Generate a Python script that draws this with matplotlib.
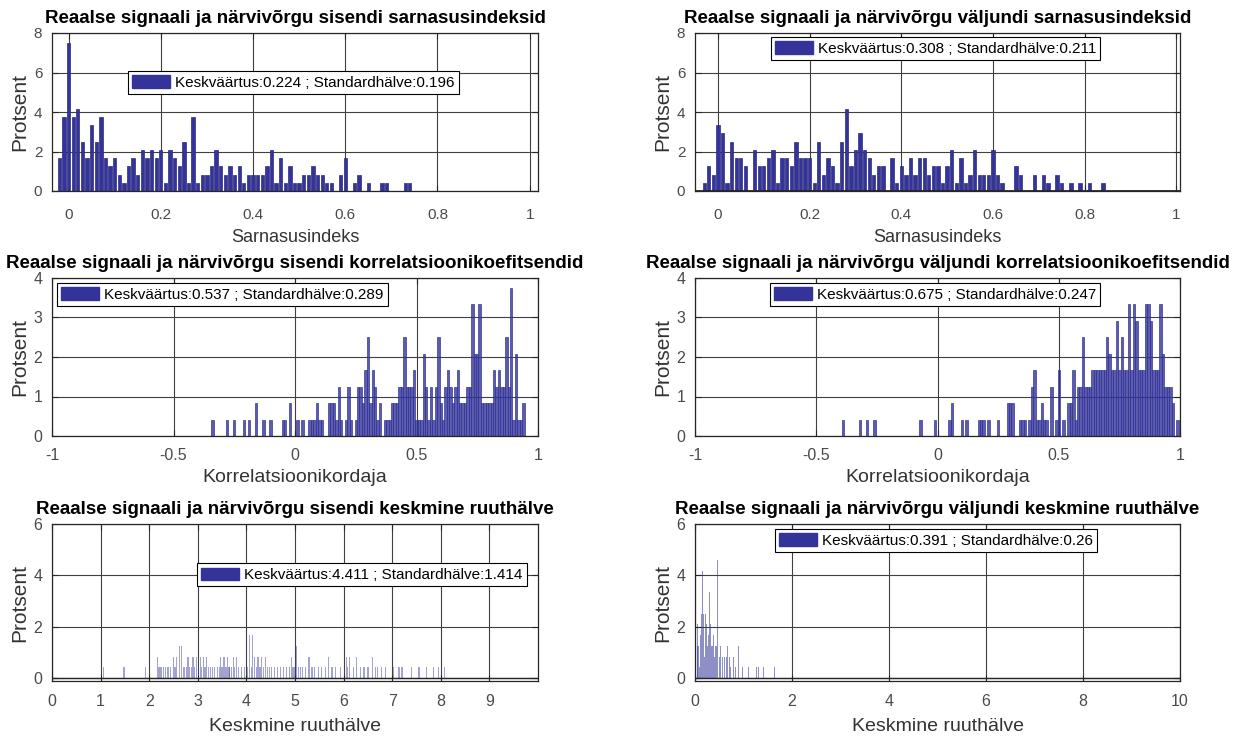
import numpy as np
import matplotlib.pyplot as plt
from matplotlib.patches import Patch
from matplotlib.ticker import FormatStrFormatter

plt.rcParams['font.family'] = ['Liberation Sans', 'DejaVu Sans']

N_SAMPLES = 240          # protsendi arvutamiseks
BAR_COLOR = "#333399"

# sarnasusindeksid, vahemiku laius 0.01, esimese vahemiku keskpunkt antud
sim_in_start = -0.02
sim_in_counts = [4, 9, 18, 9, 10, 6, 4, 8, 6, 9,
                 4, 3, 4, 2, 1, 3, 4, 2, 5, 4,
                 5, 4, 5, 1, 5, 4, 3, 6, 1, 9,
                 1, 2, 2, 3, 5, 3, 2, 3, 2, 3,
                 1, 2, 2, 2, 2, 3, 5, 1, 4, 1,
                 3, 1, 1, 2, 2, 3, 2, 2, 1, 1,
                 0, 2, 4, 0, 1, 2, 0, 1, 0, 0,
                 1, 1, 0, 0, 0, 1, 1]
sim_out_start = -0.03
sim_out_counts = [1, 3, 2, 8, 7, 1, 6, 4, 4, 3,
                  0, 5, 3, 3, 4, 5, 1, 4, 4, 3,
                  6, 4, 4, 4, 1, 6, 2, 4, 3, 1,
                  6, 10, 3, 5, 7, 5, 4, 2, 3, 3,
                  0, 4, 1, 3, 2, 4, 2, 4, 4, 2,
                  3, 3, 1, 3, 5, 1, 4, 1, 2, 5,
                  2, 2, 2, 5, 2, 1, 0, 0, 3, 2,
                  0, 0, 2, 0, 2, 1, 0, 2, 1, 0,
                  1, 0, 1, 0, 1, 0, 0, 1]

# korrelatsioonikordajad
corr_in_centers = [-0.34, -0.28, -0.25, -0.21, -0.19, -0.16, -0.13, -0.10, -0.05, -0.04,
                   -0.02, 0.01, 0.03, 0.06, 0.07, 0.08, 0.09, 0.10, 0.11, 0.14,
                   0.15, 0.16, 0.17, 0.18, 0.19, 0.21, 0.22, 0.23, 0.25, 0.26,
                   0.27, 0.28, 0.29, 0.30, 0.31, 0.32, 0.33, 0.34, 0.35, 0.37,
                   0.38, 0.39, 0.40, 0.41, 0.42, 0.43, 0.44, 0.45, 0.46, 0.47,
                   0.48, 0.49, 0.50, 0.51, 0.52, 0.53, 0.54, 0.55, 0.56, 0.57,
                   0.58, 0.59, 0.60, 0.61, 0.62, 0.63, 0.64, 0.65, 0.66, 0.67,
                   0.68, 0.69, 0.70, 0.71, 0.72, 0.73, 0.74, 0.75, 0.76, 0.77,
                   0.78, 0.79, 0.80, 0.81, 0.82, 0.83, 0.84, 0.85, 0.86, 0.87,
                   0.88, 0.89, 0.90, 0.91, 0.92, 0.93, 0.94]
corr_in_counts = [1, 1, 1, 1, 1, 2, 1, 1, 1, 1,
                  2, 1, 1, 1, 1, 1, 2, 1, 1, 2,
                  2, 2, 1, 3, 1, 1, 3, 1, 1, 3,
                  3, 2, 4, 6, 2, 4, 3, 1, 2, 1,
                  1, 1, 2, 2, 2, 3, 3, 6, 3, 3,
                  3, 4, 1, 1, 1, 5, 3, 1, 3, 1,
                  3, 6, 2, 1, 3, 4, 3, 2, 3, 4,
                  2, 2, 2, 3, 3, 8, 5, 5, 8, 2,
                  2, 2, 2, 2, 4, 3, 4, 3, 3, 6,
                  3, 9, 1, 5, 1, 1, 2]
corr_out_centers = [-0.39, -0.32, -0.29, -0.26, -0.07, -0.01, 0.05, 0.06, 0.10, 0.12,
                    0.17, 0.18, 0.19, 0.21, 0.25, 0.29, 0.30, 0.31, 0.34, 0.35,
                    0.36, 0.38, 0.39, 0.40, 0.41, 0.42, 0.43, 0.44, 0.45, 0.47,
                    0.49, 0.50, 0.52, 0.54, 0.55, 0.56, 0.57, 0.58, 0.59, 0.60,
                    0.61, 0.62, 0.63, 0.64, 0.65, 0.66, 0.67, 0.68, 0.69, 0.70,
                    0.71, 0.72, 0.73, 0.74, 0.75, 0.76, 0.77, 0.78, 0.79, 0.80,
                    0.81, 0.82, 0.83, 0.84, 0.85, 0.86, 0.87, 0.88, 0.89, 0.90,
                    0.91, 0.92, 0.93, 0.94, 0.95, 0.96, 0.97, 0.99]
corr_out_counts = [1, 1, 1, 1, 1, 1, 1, 2, 1, 1,
                   1, 1, 1, 1, 1, 2, 2, 2, 1, 1,
                   1, 1, 3, 4, 1, 1, 2, 1, 1, 3,
                   1, 4, 1, 2, 2, 4, 1, 3, 3, 6,
                   3, 3, 3, 4, 4, 4, 4, 4, 4, 6,
                   5, 4, 4, 7, 4, 6, 4, 4, 8, 4,
                   8, 7, 4, 4, 4, 8, 8, 7, 4, 4,
                   4, 8, 5, 3, 3, 3, 2, 1]

# keskmine ruuthälve
rmse_in_values = [1.06, 1.48, 1.92, 2.17, 2.20, 2.23, 2.26, 2.30, 2.33, 2.37,
                  2.40, 2.44, 2.50, 2.53, 2.56, 2.62, 2.67, 2.70, 2.73, 2.76,
                  2.80, 2.83, 2.87, 2.90, 2.94, 2.98, 3.02, 3.05, 3.08, 3.12,
                  3.15, 3.18, 3.22, 3.26, 3.30, 3.34, 3.40, 3.44, 3.47, 3.50,
                  3.54, 3.58, 3.61, 3.64, 3.66, 3.70, 3.73, 3.76, 3.80, 3.84,
                  3.90, 3.96, 4.02, 4.06, 4.10, 4.13, 4.17, 4.20, 4.24, 4.28,
                  4.31, 4.35, 4.40, 4.44, 4.48, 4.52, 4.58, 4.64, 4.70, 4.76,
                  4.82, 4.88, 4.92, 4.96, 5.00, 5.03, 5.07, 5.12, 5.16, 5.22,
                  5.29, 5.35, 5.40, 5.48, 5.55, 5.62, 5.69, 5.76, 5.84, 5.94,
                  6.06, 6.08, 6.12, 6.20, 6.27, 6.35, 6.42, 6.50, 6.60, 6.66,
                  6.70, 6.78, 6.86, 7.02, 7.14, 7.20, 7.40, 7.55, 7.70, 7.85,
                  7.96, 8.08]
rmse_in_counts = [1, 1, 1, 2, 1, 1, 1, 1, 1, 1,
                  1, 1, 2, 1, 2, 3, 3, 1, 1, 1,
                  2, 1, 1, 2, 1, 2, 1, 2, 1, 2,
                  1, 2, 1, 1, 1, 1, 1, 1, 2, 1,
                  2, 1, 2, 1, 1, 1, 2, 1, 2, 1,
                  1, 1, 1, 4, 1, 4, 2, 1, 2, 1,
                  2, 1, 2, 1, 1, 1, 1, 1, 1, 1,
                  1, 1, 2, 1, 1, 3, 1, 1, 1, 1,
                  2, 1, 1, 1, 1, 1, 2, 1, 1, 1,
                  2, 1, 2, 1, 2, 1, 1, 1, 2, 1,
                  1, 1, 1, 1, 1, 1, 1, 1, 1, 1,
                  1, 1]
rmse_out_values = [0.05, 0.06, 0.08, 0.10, 0.12, 0.14, 0.16, 0.18, 0.20, 0.22,
                   0.24, 0.26, 0.28, 0.30, 0.32, 0.34, 0.36, 0.38, 0.40, 0.42,
                   0.44, 0.47, 0.50, 0.53, 0.56, 0.60, 0.64, 0.68, 0.71, 0.74,
                   0.79, 0.84, 0.90, 0.98, 1.10, 1.26, 1.30, 1.34, 1.42, 1.64]
rmse_out_counts = [3, 5, 3, 1, 4, 6, 10, 6, 2, 6,
                   5, 3, 4, 8, 5, 3, 3, 4, 2, 3,
                   3, 11, 2, 3, 2, 2, 2, 3, 2, 1,
                   2, 1, 3, 1, 1, 1, 1, 1, 1, 1]

titles = ["Reaalse signaali ja närvivõrgu sisendi sarnasusindeksid",
          "Reaalse signaali ja närvivõrgu väljundi sarnasusindeksid",
          "Reaalse signaali ja närvivõrgu sisendi korrelatsioonikoefitsendid",
          "Reaalse signaali ja närvivõrgu väljundi korrelatsioonikoefitsendid",
          "Reaalse signaali ja närvivõrgu sisendi keskmine ruuthälve",
          "Reaalse signaali ja närvivõrgu väljundi keskmine ruuthälve"]
xlabels = ["Sarnasusindeks", "Sarnasusindeks",
           "Korrelatsioonikordaja", "Korrelatsioonikordaja",
           "Keskmine ruuthälve", "Keskmine ruuthälve"]
legend_texts = ["Keskväärtus:0.224 ; Standardhälve:0.196",
                "Keskväärtus:0.308 ; Standardhälve:0.211",
                "Keskväärtus:0.537 ; Standardhälve:0.289",
                "Keskväärtus:0.675 ; Standardhälve:0.247",
                "Keskväärtus:4.411 ; Standardhälve:1.414",
                "Keskväärtus:0.391 ; Standardhälve:0.26"]


def pct(counts):
    return np.array(counts) * 100.0 / N_SAMPLES


def style_axes(ax, title, xlabel, xlim, xticks, ylim, yticks,
               tick_size, label_size, xtickpad, xlabelpad):
    ax.set_xlim(xlim)
    ax.set_ylim(ylim)
    ax.set_xticks(xticks)
    ax.set_yticks(yticks)
    ax.xaxis.set_major_formatter(FormatStrFormatter('%g'))
    ax.yaxis.set_major_formatter(FormatStrFormatter('%g'))
    ax.grid(True, color='#404040', linewidth=0.8)
    ax.set_axisbelow(True)
    ax.tick_params(direction='in', top=True, right=True, length=4,
                   labelsize=tick_size, labelcolor='#4a4a4a', color='#262626')
    ax.tick_params(axis='x', pad=xtickpad)
    ax.tick_params(axis='y', pad=7)
    for sp in ax.spines.values():
        sp.set_color('#262626')
        sp.set_linewidth(0.9)
    ax.set_title(title, fontsize=13.5, fontweight='bold', pad=7)
    ax.set_xlabel(xlabel, fontsize=label_size, color='#333333', labelpad=xlabelpad)
    ax.set_ylabel("Protsent", fontsize=15, color='#333333', labelpad=3)


def add_legend(ax, text, anchor):
    handle = Patch(facecolor=BAR_COLOR, edgecolor=BAR_COLOR)
    leg = ax.legend([handle], [text], loc='upper left', bbox_to_anchor=anchor,
                    borderaxespad=0, fontsize=11, fancybox=False, framealpha=1,
                    edgecolor='black', handlelength=2.5, handleheight=0.9,
                    handletextpad=0.3, borderpad=0.28)
    leg.get_frame().set_linewidth(0.8)


fig = plt.figure(figsize=(12.47, 7.38), dpi=100)
lefts = [52 / 1247, 695 / 1247]
widths = [486 / 1247, 485 / 1247]
bottoms = [1 - 191 / 738, 1 - 436 / 738, 1 - 681 / 738]
heights = [158 / 738, 158 / 738, 157 / 738]
axes = []
for r in range(3):
    for c in range(2):
        axes.append(fig.add_axes([lefts[c], bottoms[r], widths[c], heights[r]]))

# rida 1
sim_in_x = sim_in_start + 0.01 * np.arange(len(sim_in_counts))
axes[0].bar(sim_in_x, pct(sim_in_counts), width=0.0072, color=BAR_COLOR,
            edgecolor='#2a2a80', linewidth=0.5)
sim_out_x = sim_out_start + 0.01 * np.arange(len(sim_out_counts))
axes[1].bar(sim_out_x, pct(sim_out_counts), width=0.0072, color=BAR_COLOR,
            edgecolor='#2a2a80', linewidth=0.5)
axes[1].axhline(0, color='#262626', linewidth=2)

# rida 2
axes[2].bar(corr_in_centers, pct(corr_in_counts), width=0.01, color=BAR_COLOR,
            alpha=0.8, edgecolor=BAR_COLOR, linewidth=0.6)
axes[3].bar(corr_out_centers, pct(corr_out_counts), width=0.01, color=BAR_COLOR,
            alpha=0.8, edgecolor=BAR_COLOR, linewidth=0.6)

# rida 3
axes[4].bar(rmse_in_values, pct(rmse_in_counts), width=0.025, color=BAR_COLOR,
            alpha=0.45, linewidth=0)
axes[5].bar(rmse_out_values, pct(rmse_out_counts), width=0.02, color=BAR_COLOR,
            alpha=0.55, linewidth=0)
for ax in axes[4:]:
    ax.axhline(0, color='#262626', linewidth=1.0)

style_axes(axes[0], titles[0], xlabels[0], (-0.036, 1.018), np.arange(0, 1.01, 0.2),
           (0, 8), [0, 2, 4, 6, 8], 11, 13, 12, 5)
style_axes(axes[1], titles[1], xlabels[1], (-0.05, 1.008), np.arange(0, 1.01, 0.2),
           (0, 8), [0, 2, 4, 6, 8], 11, 13, 12, 5)
style_axes(axes[2], titles[2], xlabels[2], (-1, 1), [-1, -0.5, 0, 0.5, 1],
           (0, 4), [0, 1, 2, 3, 4], 11.5, 14, 9, 4)
style_axes(axes[3], titles[3], xlabels[3], (-1, 1), [-1, -0.5, 0, 0.5, 1],
           (0, 4), [0, 1, 2, 3, 4], 11.5, 14, 9, 4)
style_axes(axes[4], titles[4], xlabels[4], (0, 10), list(range(10)),
           (-0.12, 6), [0, 2, 4, 6], 11.5, 14, 9, 7)
style_axes(axes[5], titles[5], xlabels[5], (0, 10), [0, 2, 4, 6, 8, 10],
           (-0.12, 6), [0, 2, 4, 6], 11.5, 14, 9, 7)

anchors = [(0.156, 0.76), (0.156, 0.975), (0.01, 0.968),
           (0.154, 0.968), (0.298, 0.75), (0.165, 0.968)]
for ax, txt, anc in zip(axes, legend_texts, anchors):
    add_legend(ax, txt, anc)

fig.savefig("out.png", dpi=100)
